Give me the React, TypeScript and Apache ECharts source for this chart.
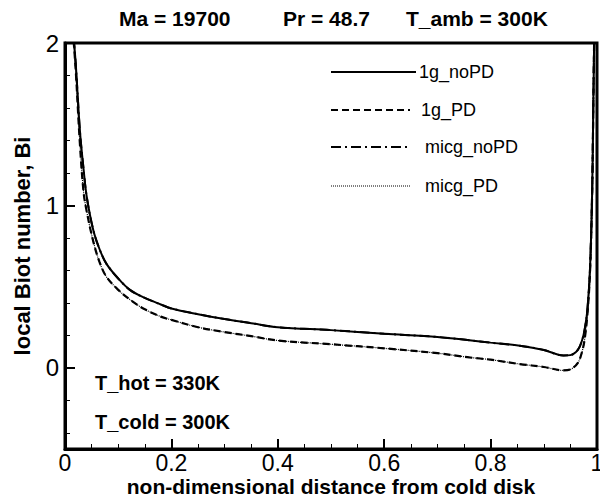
import React, { useEffect, useRef } from "react";
import * as echarts from "echarts";

// distance from cold disk (non-dimensional)
const xs = [0.013, 0.02, 0.028, 0.035, 0.041, 0.053, 0.065, 0.078, 0.1, 0.122, 0.15, 0.18, 0.2, 0.25, 0.3, 0.35, 0.4, 0.5, 0.6, 0.7, 0.76, 0.8, 0.855, 0.9, 0.937, 0.95, 0.964, 0.972, 0.977, 0.982, 0.987, 0.991, 0.993, 0.995];

// local Biot number, one list per case
const bi1gNoPD = [2.15, 1.88, 1.46, 1.22, 1.05, 0.85, 0.73, 0.64, 0.55, 0.48, 0.43, 0.39, 0.365, 0.33, 0.3, 0.275, 0.25, 0.232, 0.21, 0.19, 0.17, 0.155, 0.136, 0.11, 0.076, 0.078, 0.11, 0.17, 0.24, 0.36, 0.62, 1.1, 1.6, 2.1];
const bi1gPD = [2.15, 1.84, 1.38, 1.08, 0.96, 0.78, 0.65, 0.56, 0.48, 0.42, 0.36, 0.315, 0.295, 0.25, 0.22, 0.195, 0.168, 0.145, 0.12, 0.09, 0.064, 0.05, 0.023, 0.005, -0.016, -0.01, 0.03, 0.1, 0.18, 0.33, 0.6, 1.1, 1.6, 2.1];
const biMicgNoPD = [2.15, 1.88, 1.46, 1.22, 1.05, 0.85, 0.73, 0.64, 0.55, 0.48, 0.43, 0.39, 0.365, 0.33, 0.3, 0.275, 0.25, 0.232, 0.21, 0.19, 0.17, 0.155, 0.136, 0.11, 0.076, 0.078, 0.11, 0.17, 0.24, 0.36, 0.62, 1.1, 1.6, 2.1];
const biMicgPD = [2.15, 1.84, 1.38, 1.08, 0.96, 0.78, 0.65, 0.56, 0.48, 0.42, 0.36, 0.315, 0.295, 0.25, 0.22, 0.195, 0.168, 0.145, 0.12, 0.09, 0.064, 0.05, 0.023, 0.005, -0.016, -0.01, 0.03, 0.1, 0.18, 0.33, 0.6, 1.1, 1.6, 2.1];

const yMajorTicks = [0, 1, 2];
const yMinorTicks = [-0.4, -0.2, 0.2, 0.4, 0.6, 0.8, 1.2, 1.4, 1.6, 1.8];
const xTickLabels = ["0", "0.2", "0.4", "0.6", "0.8", "1"];

const seriesNames = ["1g_noPD", "1g_PD", "micg_noPD", "micg_PD"];
const titleParts = ["Ma = 19700", "Pr = 48.7", "T_amb = 300K"];
const notes = ["T_hot = 330K", "T_cold = 300K"];

const FONT = "'Liberation Sans', Arial, sans-serif";

const styles: Record<string, { width: number; dash: any }> = {
  "1g_noPD": { width: 2, dash: "solid" },
  "1g_PD": { width: 2.2, dash: [7, 4] },
  "micg_noPD": { width: 2, dash: [10, 4, 2, 4] },
  "micg_PD": { width: 1.2, dash: [1, 1] },
};

const dataFor: Record<string, number[]> = {
  "1g_noPD": bi1gNoPD,
  "1g_PD": bi1gPD,
  "micg_noPD": biMicgNoPD,
  "micg_PD": biMicgPD,
};

export default function App() {
  const ref = useRef<HTMLDivElement>(null);
  useEffect(() => {
    if (!ref.current) return;
    const chart = echarts.init(ref.current, null, { renderer: "svg" });
    const drawOrder = ["micg_noPD", "micg_PD", "1g_PD", "1g_noPD"];
    const series = drawOrder.map((name) => ({
      name,
      type: "line",
      data: xs.map((x, i) => [x, dataFor[name][i]]),
      showSymbol: false,
      smooth: 0.35,
      clip: true,
      lineStyle: { color: "#000", width: styles[name].width, type: styles[name].dash },
      xAxisIndex: 0,
      yAxisIndex: 0,
    }));

    const legendX1 = 331;
    const legendX2 = 416;
    const legendYs = [72, 110, 147, 186];
    const legendTextX = [419, 421, 425, 425];
    const legendGraphics: any[] = [];
    seriesNames.forEach((name, i) => {
      legendGraphics.push({
        type: "line",
        shape: { x1: legendX1, y1: legendYs[i], x2: legendX2 - (i === 0 ? 0 : 6), y2: legendYs[i] },
        style: { stroke: "#000", lineWidth: styles[name].width, lineDash: styles[name].dash === "solid" ? null : styles[name].dash },
      });
      legendGraphics.push({
        type: "text",
        x: legendTextX[i],
        y: legendYs[i],
        style: { text: name, font: `18px ${FONT}`, fill: "#000", textVerticalAlign: "middle", textAlign: "left" },
      });
    });

    const titleXs = [119, 283, 406];
    const titleGraphics = titleParts.map((t, i) => ({
      type: "text",
      x: titleXs[i],
      y: 18,
      style: { text: t, font: `bold 21px ${FONT}`, fill: "#000", textVerticalAlign: "middle", textAlign: "left" },
    }));
    const noteYs = [383, 422];
    const noteGraphics = notes.map((t, i) => ({
      type: "text",
      x: 95,
      y: noteYs[i],
      style: { text: t, font: `bold 20px ${FONT}`, fill: "#000", textVerticalAlign: "middle", textAlign: "left" },
    }));

    chart.setOption({
      animation: false,
      backgroundColor: "#fff",
      grid: {
        left: 65,
        right: 3,
        top: 43,
        bottom: 48,
        show: true,
        borderColor: "#000",
        borderWidth: 3,
        containLabel: false,
        outerBoundsMode: "none",
      },
      xAxis: [
        {
          type: "value",
          min: 0,
          max: 1,
          interval: 0.2,
          name: "non-dimensional distance from cold disk",
          nameLocation: "middle",
          nameGap: 27,
          nameMoveOverlap: false,
          nameTextStyle: { fontFamily: FONT, fontWeight: "bold", fontSize: 21, color: "#000" },
          axisLine: { show: true, onZero: false, lineStyle: { color: "#000", width: 3 } },
          axisTick: { show: true, inside: true, length: 10, lineStyle: { color: "#000", width: 2 } },
          minorTick: { show: true, splitNumber: 4, length: 5, lineStyle: { color: "#000", width: 1 } },
          axisLabel: {
            fontFamily: FONT,
            fontSize: 23,
            color: "#000",
            margin: 2,
            hideOverlap: false,
            formatter: (v: number) => xTickLabels[Math.round(v / 0.2)] ?? "",
          },
          splitLine: { show: false },
        },
      ],
      yAxis: [
        {
          type: "value",
          min: -0.5,
          max: 2,
          position: "left",
          name: "local Biot number, Bi",
          nameLocation: "middle",
          nameGap: 32,
          nameMoveOverlap: false,
          nameTextStyle: { fontFamily: FONT, fontWeight: "bold", fontSize: 22, color: "#000" },
          axisLine: { show: true, onZero: false, lineStyle: { color: "#000", width: 3 } },
          axisTick: { show: true, inside: true, length: 10, customValues: yMajorTicks, lineStyle: { color: "#000", width: 2 } },
          axisLabel: { fontFamily: FONT, fontSize: 24, color: "#000", margin: 6, customValues: yMajorTicks },
          splitLine: { show: false },
        },
        {
          type: "value",
          min: -0.5,
          max: 2,
          position: "left",
          axisLine: { show: false },
          axisTick: { show: true, inside: true, length: 5, customValues: yMinorTicks, lineStyle: { color: "#000", width: 1 } },
          axisLabel: { show: false },
          splitLine: { show: false },
        },
      ],
      series,
      graphic: [...titleGraphics, ...legendGraphics, ...noteGraphics],
    });
    return () => chart.dispose();
  }, []);
  return <div ref={ref} style={{ width: 600, height: 497, position: "absolute", left: 0, top: 0 }} />;
}
